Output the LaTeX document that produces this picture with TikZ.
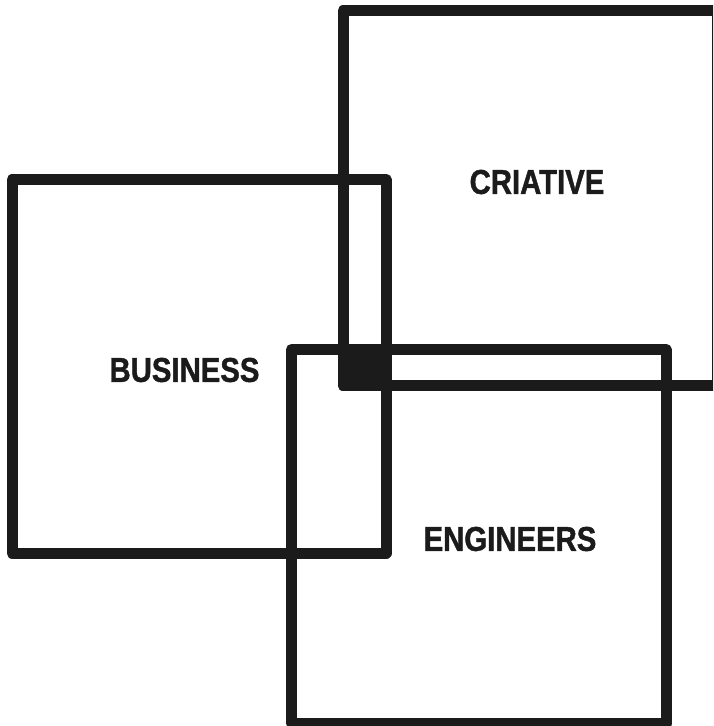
\documentclass[tikz,border=0pt]{standalone}
\usepackage{fontspec}
\setmainfont[FakeStretch=0.85,BoldFeatures={FakeBold=1.2}]{Liberation Sans}
\definecolor{ink}{HTML}{1B1B1B}
\begin{document}
\begin{tikzpicture}[x=1pt,y=-1pt,
  sq/.style={draw=ink,line width=11pt,line join=round},
  lbl/.style={text=ink,font=\bfseries\fontsize{34.5}{37}\selectfont,inner sep=0pt,anchor=center}]
\useasboundingbox (0,0) rectangle (713,726);
\clip (0,0) rectangle (713,726);
\fill[white] (0,0) rectangle (713,726);
\draw[sq] (343,10.5) rectangle (717,385.5);
\draw[sq] (12,179.5) rectangle (386,553);
\draw[sq] (291.5,349.5) rectangle (666,723);
\filldraw[sq,fill=ink] (343,349.5) rectangle (386,385.5);
\node[lbl] (criative) at (537,182) {CRIATIVE};
\node[lbl] (business) at (184.5,370) {BUSINESS};
\node[lbl] (engineers) at (510,539) {ENGINEERS};
\end{tikzpicture}
\end{document}
